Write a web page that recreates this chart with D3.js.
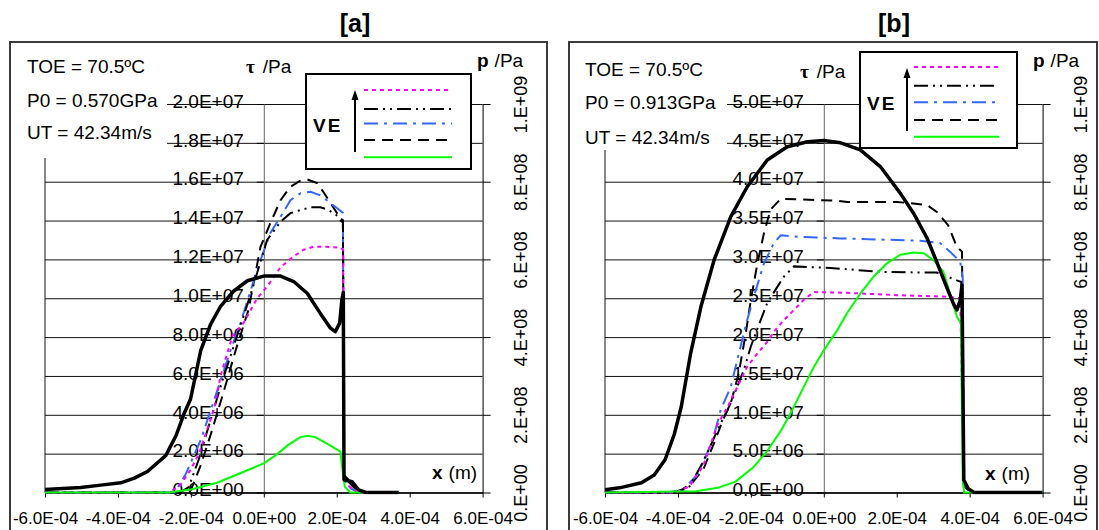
<!DOCTYPE html>
<html>
<head>
<meta charset="utf-8">
<script src="https://cdn.jsdelivr.net/npm/d3@7"></script>
<style>
  body { margin: 0; background: #fff; }
  svg text { font-family: "Liberation Sans", Arial, sans-serif; fill: #000; }
</style>
</head>
<body>
<svg id="chart" width="1099" height="530"></svg>
<script>
// units: x in 1e-4 m, tau in 1e6 Pa, p in 1e8 Pa
const xTicks = [-6, -4, -2, 0, 2, 4, 6];
const tauTicksA = [0, 2, 4, 6, 8, 10, 12, 14, 16, 18, 20];
const tauTicksB = [0, 5, 10, 15, 20, 25, 30, 35, 40, 45, 50];
const pTicks = [0, 2, 4, 6, 8, 10];

const notesA = ["TOE = 70.5ºC", "P0 = 0.570GPa", "UT = 42.34m/s"];
const notesB = ["TOE = 70.5ºC", "P0 = 0.913GPa", "UT = 42.34m/s"];

// panel [a] shear stress curves
const magentaA = [[-6,0],[-2.6,0],[-2.31,0.33],[-2.01,1.16],[-1.77,2.03],[-1.54,3.32],[-1.35,4.4],[-1.18,6.05],[-0.86,8.05],[-0.56,8.72],[-0.18,10.0],[0.09,10.6],[0.46,11.6],[0.78,12.1],[1.09,12.5],[1.36,12.65],[1.73,12.65],[2.1,12.6],[2.17,12.5],[2.2,0.6],[2.4,0.2],[2.6,0],[3.7,0]];
const ddotA = [[-6,0],[-2.3,0],[-2.06,0.28],[-1.79,1.67],[-1.46,3.73],[-1.13,5.79],[-0.77,7.85],[-0.36,10.2],[0.09,13.0],[0.46,13.94],[0.73,14.38],[1.0,14.54],[1.28,14.68],[1.55,14.68],[1.73,14.58],[1.92,14.38],[2.1,14.13],[2.17,14.0],[2.2,0.8],[2.45,0.3],[2.65,0],[3.7,0]];
const blueA = [[-6,0],[-2.45,0],[-2.16,0.87],[-1.73,2.7],[-1.32,5.0],[-0.91,7.33],[-0.64,8.72],[-0.36,10.4],[-0.09,11.97],[0.18,13.36],[0.46,14.2],[0.73,15.05],[1.0,15.4],[1.28,15.48],[1.55,15.3],[1.83,14.9],[2.1,14.5],[2.17,14.4],[2.2,0.7],[2.4,0.2],[2.6,0],[3.7,0]];
const dashA = [[-6,0],[-2.2,0],[-2.0,0.13],[-1.73,1.4],[-1.46,2.96],[-1.13,5.0],[-0.77,7.33],[-0.42,9.4],[-0.09,12.65],[0.18,13.87],[0.46,15.05],[0.73,15.74],[1.0,16.05],[1.19,16.12],[1.46,15.93],[1.63,15.48],[1.83,14.9],[2.01,14.38],[2.1,14.02],[2.17,13.9],[2.2,0.9],[2.45,0.4],[2.7,0],[3.7,0]];
const greenA = [[-6,0],[-2.6,0],[-2.0,0.15],[-1.28,0.5],[-0.55,1.07],[0,1.5],[0.35,1.95],[0.67,2.45],[1.0,2.85],[1.2,2.92],[1.41,2.85],[1.79,2.45],[2.1,2.1],[2.15,1.3],[2.22,0.3],[2.37,0],[3.7,0]];
// panel [a] pressure
const pressureA = [[-6,0.08],[-5.02,0.13],[-4.47,0.19],[-3.92,0.25],[-3.55,0.37],[-3.19,0.54],[-2.69,0.95],[-2.4,1.48],[-2.2,2.0],[-2.01,2.4],[-1.73,3.65],[-1.46,4.33],[-1.18,4.8],[-0.83,5.18],[-0.45,5.45],[0,5.57],[0.46,5.57],[0.82,5.43],[1.19,5.13],[1.55,4.61],[1.83,4.23],[1.96,4.14],[2.08,4.36],[2.14,4.95],[2.18,5.15],[2.2,0.33],[2.42,0.28],[2.6,0.07],[2.8,0],[3.7,0]];

// panel [b] shear stress curves
const magentaB = [[-6,0],[-4.05,0],[-3.68,0.8],[-3.3,3.5],[-2.92,8.7],[-2.64,11.0],[-2.37,13.6],[-2.1,16.2],[-1.82,17.9],[-1.55,19.4],[-1.37,20.7],[-1.09,22.2],[-0.82,23.5],[-0.55,24.8],[-0.27,25.8],[0.64,25.7],[2.01,25.4],[3.38,25.2],[3.74,25.0],[3.84,1.0],[3.95,0.4],[4.05,0],[6,0]];
const ddotB = [[-6,0],[-4.0,0],[-3.68,0.8],[-3.3,4.0],[-2.92,8.0],[-2.55,11.5],[-2.19,15.8],[-2.0,18.8],[-1.73,22.2],[-1.55,24.4],[-1.27,26.5],[-1.09,27.8],[-0.82,29.1],[0.18,28.9],[1.55,28.4],[2.74,28.3],[3.1,28.3],[3.38,27.8],[3.65,27.3],[3.77,27.1],[3.83,1.2],[3.95,0.5],[4.05,0],[6,0]];
const blueB = [[-6,0],[-4.3,0],[-3.85,0.4],[-3.47,2.3],[-3.06,6.5],[-2.83,10.6],[-2.55,13.6],[-2.33,17.9],[-2.1,22.2],[-1.92,25.2],[-1.64,29.5],[-1.37,32.1],[-1.18,33.1],[-0.64,32.9],[0.46,32.7],[2.01,32.5],[2.65,32.4],[3.19,32.1],[3.46,31.0],[3.74,29.7],[3.81,27.6],[3.84,1.0],[3.95,0.3],[4.05,0],[6,0]];
const dashB = [[-6,0],[-4.1,0],[-3.9,0.35],[-3.6,1.3],[-3.3,3.0],[-2.96,6.94],[-2.77,9.3],[-2.55,11.5],[-2.33,15.4],[-2.14,20.5],[-2.0,24.8],[-1.82,29.5],[-1.64,33.4],[-1.46,36.4],[-1.18,37.8],[0.37,37.55],[0.64,37.4],[2.01,37.4],[2.83,37.0],[3.1,36.1],[3.41,34.4],[3.65,31.6],[3.79,31.0],[3.84,0.8],[3.97,0.3],[4.05,0],[6,0]];
const greenB = [[-6,0],[-3.5,0.15],[-2.91,0.6],[-2.42,1.4],[-1.94,3.2],[-1.56,5.3],[-1.17,8.0],[-0.91,10.2],[-0.55,13.6],[-0.27,16.2],[0,18.3],[0.37,20.9],[0.64,23.1],[1.0,25.6],[1.37,27.8],[1.73,29.5],[2.1,30.6],[2.46,30.9],[2.74,30.8],[3.01,29.9],[3.28,28.4],[3.46,25.6],[3.65,22.6],[3.76,21.8],[3.81,1.6],[3.85,0],[6,0]];
// panel [b] pressure
const pressureB = [[-6,0.07],[-5.6,0.12],[-5.0,0.25],[-4.65,0.45],[-4.35,0.85],[-4.1,1.5],[-3.91,2.2],[-3.65,3.59],[-3.37,4.78],[-3.01,5.98],[-2.55,7.1],[-2.1,7.87],[-1.55,8.56],[-1.0,8.9],[-0.45,9.03],[0,9.06],[0.46,9.0],[1.0,8.82],[1.55,8.39],[2.1,7.7],[2.46,7.19],[2.83,6.55],[3.1,5.93],[3.38,5.26],[3.56,4.85],[3.65,4.7],[3.74,4.95],[3.79,5.34],[3.84,0.32],[3.96,0.1],[4.12,0],[6,0]];

const styles = [
  { color: "#ff00ff", dash: "4,4" },
  { color: "#000000", dash: "14,5,2,5,2,5" },
  { color: "#3366ff", dash: "14,6,3,6" },
  { color: "#000000", dash: "11,7" },
  { color: "#00ff00", dash: null }
];

function sci(v, dec) {
  if (v === 0) return (0).toFixed(dec) + (dec ? "" : ".") + "E+00";
  var e = Math.floor(Math.log10(Math.abs(v)) + 1e-9);
  var m = v / Math.pow(10, e);
  return m.toFixed(dec) + (dec ? "" : ".") + "E" + (e < 0 ? "-" : "+") + String(Math.abs(e)).padStart(2, "0");
}

const svg = d3.select("#chart");

function drawPanel(cfg) {
  const ox = cfg.ox;
  const g = svg.append("g");

  const x = d3.scaleLinear().domain([-6, 6]).range([ox + 45, ox + 482.6]);
  const yT = d3.scaleLinear().domain([0, cfg.tauMax]).range([492.5, 104]);
  const yP = d3.scaleLinear().domain([0, 10]).range([492.5, 104]);

  // horizontal gridlines
  g.append("g")
    .attr("transform", `translate(${x(-6)},0)`)
    .call(d3.axisLeft(yT).tickValues(cfg.tauTicks).tickSize(-(x(6) - x(-6))).tickFormat(""))
    .call(s => s.select(".domain").remove())
    .call(s => s.selectAll("line").attr("stroke", "#111").attr("stroke-width", 1));

  // left plot border
  g.append("line")
    .attr("x1", x(-6)).attr("x2", x(-6))
    .attr("y1", yT(0)).attr("y2", yT(cfg.tauMax))
    .attr("stroke", "#111");

  // tau axis through x = 0
  const ax = g.append("g")
    .attr("transform", `translate(${x(0)},0)`)
    .call(d3.axisLeft(yT).tickValues(cfg.tauTicks).tickSize(7).tickPadding(13).tickSizeOuter(0)
      .tickFormat(d => sci(d * 1e6, 1)));
  ax.select(".domain").attr("stroke", "#666");
  ax.selectAll("line").attr("stroke", "#000");
  ax.selectAll("text").attr("font-size", 19).attr("dy", "0.17em")
    .attr("font-family", "'Liberation Sans', Arial, sans-serif");

  // x axis
  const bx = g.append("g")
    .attr("transform", `translate(0,${yT(0)})`)
    .call(d3.axisBottom(x).tickValues(xTicks).tickSize(5).tickPadding(14).tickSizeOuter(0)
      .tickFormat(d => sci(d * 1e-4, 1)));
  bx.select(".domain").attr("stroke", "#000").attr("stroke-width", 1.5);
  bx.selectAll("text").attr("font-size", 17)
    .attr("font-family", "'Liberation Sans', Arial, sans-serif");

  // p axis on the right
  const rx = g.append("g")
    .attr("transform", `translate(${x(6)},0)`)
    .call(d3.axisRight(yP).tickValues(pTicks).tickSize(8).tickSizeOuter(0)
      .tickFormat(d => sci(d * 1e8, 0)));
  rx.select(".domain").attr("stroke", "#000");
  rx.selectAll("line").attr("stroke", "#000");
  rx.selectAll("text")
    .attr("x", null).attr("dy", null)
    .attr("text-anchor", "middle")
    .attr("font-size", 18)
    .attr("font-family", "'Liberation Sans', Arial, sans-serif")
    .attr("transform", "translate(44,0) rotate(-90)");

  // curves
  const clipId = "clip" + cfg.id;
  g.append("clipPath").attr("id", clipId).append("rect")
    .attr("x", x(-6)).attr("y", yT(cfg.tauMax) - 2)
    .attr("width", x(6) - x(-6)).attr("height", yT(0) - yT(cfg.tauMax) + 4);
  const cg = g.append("g").attr("clip-path", `url(#${clipId})`);

  const lineT = d3.line().x(d => x(d[0])).y(d => yT(d[1]));
  const lineP = d3.line().x(d => x(d[0])).y(d => yP(d[1]));

  [3, 2, 1, 0, 4].forEach(i => {
    cg.append("path")
      .datum(cfg.series[i])
      .attr("d", lineT)
      .attr("fill", "none")
      .attr("stroke", styles[i].color)
      .attr("stroke-width", 2)
      .attr("stroke-dasharray", styles[i].dash);
  });

  cg.append("path")
    .datum(cfg.pressure)
    .attr("d", lineP)
    .attr("fill", "none")
    .attr("stroke", "#000")
    .attr("stroke-width", 3.5)
    .attr("stroke-linejoin", "round");

  // notes box
  g.append("rect")
    .attr("x", ox + cfg.note.x0).attr("y", 44)
    .attr("width", cfg.note.w).attr("height", cfg.note.h)
    .attr("fill", "#fff");
  cfg.notes.forEach((t, i) => {
    g.append("text")
      .attr("x", ox + cfg.note.tx).attr("y", cfg.note.ys[i])
      .attr("font-size", 19)
      .text(t);
  });

  // legend
  const L = cfg.legend;
  g.append("rect")
    .attr("x", ox + L.x).attr("y", L.y)
    .attr("width", L.w).attr("height", L.h)
    .attr("fill", "#fff").attr("stroke", "#000").attr("stroke-width", 2);
  g.append("text")
    .attr("x", ox + L.x + 7).attr("y", L.veY)
    .attr("font-size", 19).attr("font-weight", "bold").attr("letter-spacing", 2)
    .text("VE");
  g.append("line")
    .attr("x1", ox + L.arrowX).attr("x2", ox + L.arrowX)
    .attr("y1", L.arrowY1).attr("y2", L.arrowY0 + 8)
    .attr("stroke", "#000").attr("stroke-width", 2);
  g.append("path")
    .attr("d", `M${ox + L.arrowX},${L.arrowY0} l-3.5,10 h7 z`)
    .attr("fill", "#000");
  styles.forEach((s, i) => {
    g.append("line")
      .attr("x1", ox + L.lx0).attr("x2", ox + L.lx1)
      .attr("y1", L.ys[i]).attr("y2", L.ys[i])
      .attr("stroke", s.color).attr("stroke-width", 2)
      .attr("stroke-dasharray", s.dash);
  });

  // axis titles
  const tt = g.append("text").attr("x", ox + cfg.tauLab.x).attr("y", cfg.tauLab.y).attr("font-size", 19);
  tt.append("tspan").attr("font-family", "'Liberation Serif', serif").attr("font-weight", "bold").text("τ");
  tt.append("tspan").attr("dx", 8).text("/Pa");

  const pt = g.append("text").attr("x", ox + cfg.pLab.x).attr("y", cfg.pLab.y).attr("font-size", 19);
  pt.append("tspan").attr("font-weight", "bold").text("p");
  pt.append("tspan").attr("dx", 6).text("/Pa");

  const xt = g.append("text").attr("x", ox + cfg.xLab.x).attr("y", cfg.xLab.y).attr("font-size", 19);
  xt.append("tspan").attr("font-weight", "bold").text("x");
  xt.append("tspan").attr("dx", 6).text("(m)");

  // frame and title
  g.append("rect")
    .attr("x", ox + cfg.frame.x).attr("y", 42)
    .attr("width", cfg.frame.w).attr("height", 520)
    .attr("fill", "none").attr("stroke", "#3a3a3a").attr("stroke-width", 2);
  g.append("text")
    .attr("x", ox + cfg.titleX).attr("y", 32)
    .attr("text-anchor", "middle")
    .attr("font-family", "'Liberation Serif', serif")
    .attr("font-weight", "bold").attr("font-size", 25)
    .text(cfg.title);
}

drawPanel({
  id: "a", ox: 0, title: "[a]", titleX: 355,
  tauMax: 20, tauTicks: tauTicksA,
  series: [magentaA, ddotA, blueA, dashA, greenA], pressure: pressureA,
  notes: notesA,
  note: { x0: 12, w: 155, h: 114, tx: 27, ys: [73, 107, 139] },
  legend: { x: 306, y: 74, w: 165, h: 95, veY: 132, arrowX: 355, arrowY0: 90, arrowY1: 152,
            lx0: 364, lx1: 452, ys: [90, 109, 123.5, 140, 157.3] },
  tauLab: { x: 246, y: 73 }, pLab: { x: 477, y: 67 }, xLab: { x: 432, y: 479 },
  frame: { x: 10, w: 537 }
});

drawPanel({
  id: "b", ox: 560, title: "[b]", titleX: 334,
  tauMax: 50, tauTicks: tauTicksB,
  series: [magentaB, ddotB, blueB, dashB, greenB], pressure: pressureB,
  notes: notesB,
  note: { x0: 11, w: 156, h: 106, tx: 25, ys: [76, 109, 144] },
  legend: { x: 300, y: 52, w: 157, h: 96, veY: 110, arrowX: 347, arrowY0: 68, arrowY1: 131,
            lx0: 354, lx1: 439, ys: [67, 85.7, 102.3, 120, 136.7] },
  tauLab: { x: 240, y: 78 }, pLab: { x: 473, y: 67 }, xLab: { x: 425, y: 480 },
  frame: { x: 9, w: 528 }
});
</script>
</body>
</html>
